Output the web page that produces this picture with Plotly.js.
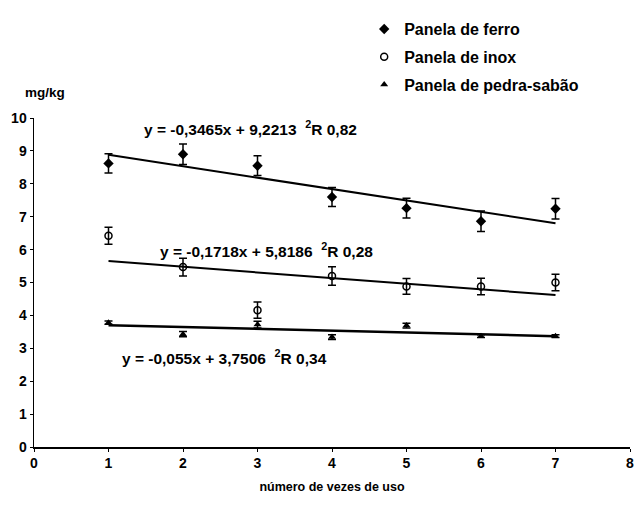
<!DOCTYPE html>
<html>
<head>
<meta charset="utf-8">
<script src="https://cdn.plot.ly/plotly-3.0.1.min.js"></script>
<style>body{margin:0;background:#fff}#chart{width:642px;height:506px}</style>
</head>
<body>
<div id="chart"></div>
<script>
const usos = [1, 2, 3, 4, 5, 6, 7];
const ferro = [8.62, 8.90, 8.55, 7.60, 7.26, 6.86, 7.24];
const ferroErr = [0.29, 0.31, 0.30, 0.29, 0.30, 0.31, 0.31];
const inox = [6.42, 5.47, 4.16, 5.20, 4.88, 4.88, 5.00];
const inoxErr = [0.26, 0.27, 0.25, 0.28, 0.24, 0.25, 0.25];
const pedra = [3.78, 3.43, 3.72, 3.34, 3.69, 3.37, 3.37];
const pedraErr = [0.05, 0.08, 0.10, 0.07, 0.07, 0.04, 0.04];

const trendX = [1, 7];
const ferroTrend = [8.88, 6.80];
const inoxTrend = [5.65, 4.62];
const pedraTrend = [3.70, 3.37];

const seriesNames = ['Panela de ferro', 'Panela de inox', 'Panela de pedra-sabão'];
const equations = [
  'y = -0,3465x + 9,2213  <sup>2</sup>R 0,82',
  'y = -0,1718x + 5,8186  <sup>2</sup>R 0,28',
  'y = -0,055x + 3,7506  <sup>2</sup>R 0,34'
];
const xTicks = [0, 1, 2, 3, 4, 5, 6, 7, 8];
const yTicks = [0, 1, 2, 3, 4, 5, 6, 7, 8, 9, 10];

const FONT = 'Liberation Sans, Arial, sans-serif';

function errBar(arr) {
  return {type: 'data', array: arr, visible: true, color: '#000', thickness: 1.5, width: 4};
}
function trend(y, w) {
  return {x: trendX, y: y, mode: 'lines', line: {color: '#000', width: w}, showlegend: false, hoverinfo: 'skip'};
}

const data = [
  trend(ferroTrend, 2), trend(inoxTrend, 2), trend(pedraTrend, 2.5),
  {x: usos, y: ferro, name: seriesNames[0], legendgroup: 'a', mode: 'markers',
   marker: {symbol: 'diamond', size: 8, color: '#000'}, error_y: errBar(ferroErr)},
  {x: usos, y: inox, name: seriesNames[1], legendgroup: 'b', mode: 'markers',
   marker: {symbol: 'circle-open', size: 7, color: '#000', line: {width: 1.5}}, error_y: errBar(inoxErr)},
  {x: usos, y: pedra, name: seriesNames[2], legendgroup: 'c', mode: 'markers',
   marker: {symbol: 'triangle-up', size: 7, color: '#000'}, error_y: errBar(pedraErr)}
];

const layout = {
  width: 642, height: 506,
  margin: {l: 34, r: 12, t: 105, b: 59},
  paper_bgcolor: '#fff', plot_bgcolor: '#fff',
  font: {family: FONT, size: 12, color: '#000', weight: 'bold'},
  showlegend: true,
  legend: {x: 0.554, y: 1.322, xanchor: 'left', yanchor: 'top', traceorder: 'grouped', tracegroupgap: 4,
           itemwidth: 30, font: {family: FONT, size: 16, color: '#000', weight: 'bold'}, bgcolor: 'rgba(0,0,0,0)'},
  xaxis: {range: [0, 8], tickvals: xTicks, ticks: 'outside', ticklen: 3, tickwidth: 1, tickcolor: '#000',
          showline: true, linecolor: '#000', linewidth: 1.5, showgrid: false, zeroline: false,
          tickfont: {family: FONT, size: 14, weight: 'bold'},
          title: {text: 'número de vezes de uso', font: {family: FONT, size: 12.5, weight: 'bold'}, standoff: 12}},
  yaxis: {range: [0, 10], tickvals: yTicks, ticks: 'outside', ticklen: 3, tickwidth: 1, tickcolor: '#000',
          showline: true, linecolor: '#000', linewidth: 1.5, showgrid: false, zeroline: false,
          tickfont: {family: FONT, size: 14, weight: 'bold'}},
  annotations: [
    {xref: 'paper', yref: 'paper', x: 0.018, y: 1.076, xanchor: 'center', yanchor: 'middle', text: 'mg/kg', showarrow: false,
     font: {family: FONT, size: 13.5, weight: 'bold'}},
    {xref: 'x', yref: 'y', x: 1.45, y: 9.71, xanchor: 'left', yanchor: 'middle', text: equations[0], showarrow: false,
     font: {family: FONT, size: 15.5, weight: 'bold'}},
    {xref: 'x', yref: 'y', x: 1.66, y: 6.0, xanchor: 'left', yanchor: 'middle', text: equations[1], showarrow: false,
     font: {family: FONT, size: 15.5, weight: 'bold'}},
    {xref: 'x', yref: 'y', x: 1.15, y: 2.75, xanchor: 'left', yanchor: 'middle', text: equations[2], showarrow: false,
     font: {family: FONT, size: 15.5, weight: 'bold'}}
  ]
};

Plotly.newPlot('chart', data, layout, {displayModeBar: false, staticPlot: true});
</script>
</body>
</html>
